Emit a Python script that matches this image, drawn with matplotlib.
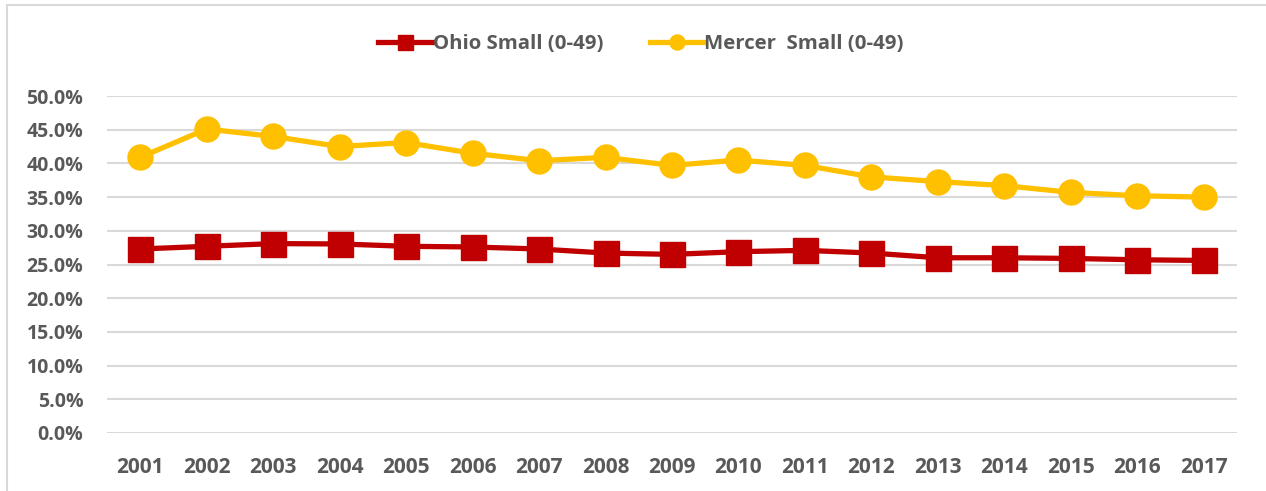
import matplotlib
matplotlib.use("Agg")
import matplotlib.pyplot as plt
from matplotlib.patches import Rectangle
from matplotlib.ticker import FuncFormatter

years = [str(y) for y in range(2001, 2018)]
ohio_small = [27.3, 27.7, 28.1, 28.05, 27.7, 27.6, 27.3, 26.7, 26.5, 26.9, 27.1, 26.7, 26.0, 26.0, 25.9, 25.7, 25.6]
mercer_small = [40.9, 45.1, 44.0, 42.5, 43.1, 41.5, 40.4, 40.9, 39.7, 40.5, 39.7, 38.0, 37.3, 36.7, 35.7, 35.2, 35.0]
yticks = [0, 5, 10, 15, 20, 25, 30, 35, 40, 45, 50]

W, H = 1266, 491
fig = plt.figure(figsize=(W / 100, H / 100), dpi=100)
plt.rcParams['font.family'] = ['Open Sans', 'DejaVu Sans']

# chart border
fig.patches.append(Rectangle((7 / W, -0.05), 1.2, 1 - 5 / H + 0.05, transform=fig.transFigure,
                             fill=False, edgecolor='#D9D9D9', linewidth=1.5))

ax = fig.add_axes([107 / W, 1 - 433 / H, (1237 - 107) / W, (433 - 96) / H])
x = list(range(len(years)))
ax.plot(x, ohio_small, color='#C00000', lw=3.8, marker='s', ms=18, label='Ohio Small (0-49)',
        clip_on=False, zorder=3)
ax.plot(x, mercer_small, color='#FFC000', lw=3.8, marker='o', ms=18, label='Mercer  Small (0-49)',
        clip_on=False, zorder=3)

ax.set_xlim(-0.5, len(years) - 0.5)
ax.set_ylim(0, 50)
ax.set_yticks(yticks)
ax.yaxis.set_major_formatter(FuncFormatter(lambda v, p: f"{v:.1f}%"))
ax.set_xticks(x)
ax.set_xticklabels(years)
ax.grid(axis='y', color='#D9D9D9', lw=1.5)
ax.set_axisbelow(True)
for s in ax.spines.values():
    s.set_visible(False)
ax.tick_params(length=0, labelcolor='#595959')
ax.tick_params(axis='y', labelsize=14, pad=17)
ax.tick_params(axis='x', labelsize=15, pad=17)
for lab in ax.get_xticklabels() + ax.get_yticklabels():
    lab.set_fontweight('bold')

leg = fig.legend(loc='center', bbox_to_anchor=(641 / W, 1 - 44 / H), ncol=2, frameon=False,
                 prop={'weight': 'bold', 'size': 14.7}, handlelength=2.6, handletextpad=0.05,
                 columnspacing=2.3, markerscale=0.6)
for t in leg.get_texts():
    t.set_color('#595959')

fig.savefig('out.png', dpi=100)
